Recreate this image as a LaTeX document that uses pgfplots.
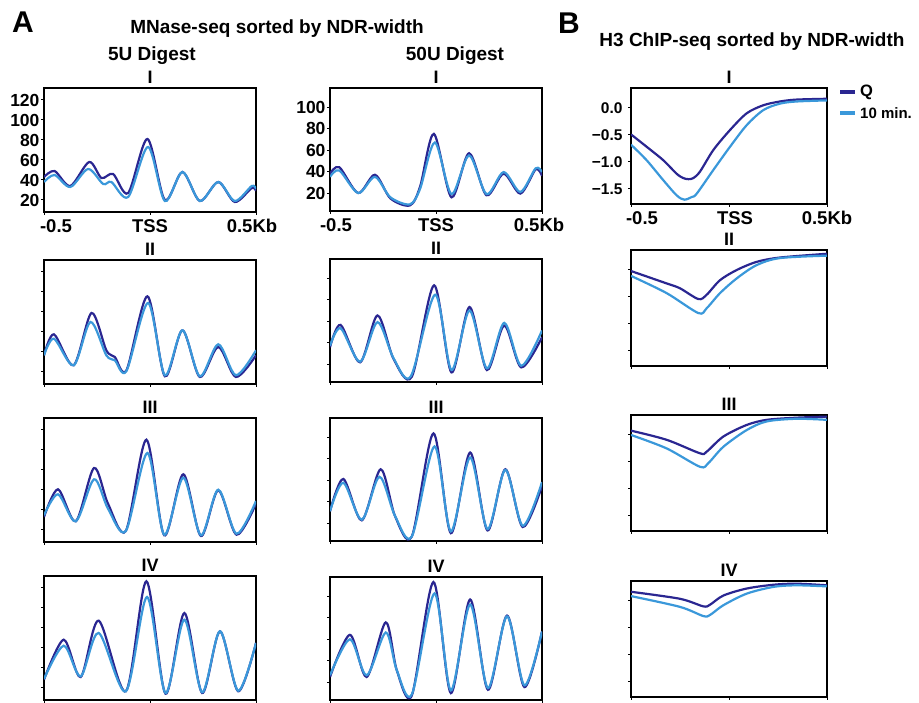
\documentclass[border=0pt]{standalone}
\usepackage{fontspec}
\setmainfont{Liberation Sans}
\usepackage{pgfplots}
\pgfplotsset{compat=1.18}
\definecolor{qcol}{RGB}{42,38,145}
\definecolor{mcol}{RGB}{58,152,218}
\pgfplotsset{
 base/.style={scale only axis, xmin=-0.5, xmax=0.5, xtick={-0.5,0,0.5}, tick pos=left, tick align=outside,
   major tick length=3pt, axis line style={line width=1.5pt}, every tick/.style={black, line width=1pt},
   xticklabels={}, yticklabels={},
   xticklabel style={font=\fontsize{18.5}{18.5}\selectfont\bfseries, yshift=-1pt},
   yticklabel style={font=\fontsize{17.5}{17.5}\selectfont\bfseries, xshift=2pt},
   title style={at={(0.5,1)}, anchor=center, yshift=5pt, font=\fontsize{18}{18}\selectfont\bfseries}},
 mn/.style={base, width=212pt, height=124pt, ymin=8, ymax=132, ytick={20,40,60,80,100,120}},
 mm/.style={base, width=212pt, height=123pt, ymin=3.3, ymax=117.7, ytick={20,40,60,80,100}},
 ch/.style={base, width=196pt, height=116pt, ymin=-1.78, ymax=0.37, ytick={-1.5,-1,-0.5,0}},
 q/.style={qcol, line width=2.2pt, smooth, no markers},
 m/.style={mcol, line width=2.2pt, smooth, no markers},
}
\begin{document}
\begin{tikzpicture}
\useasboundingbox (0,0) rectangle (919pt,703pt);
% headings
\node[font=\fontsize{30}{30}\selectfont\bfseries] at (23pt,681pt) {A};
\node[font=\fontsize{19}{19}\selectfont\bfseries] at (277pt,674pt) {MNase-seq sorted by NDR-width};
\node[font=\fontsize{19}{19}\selectfont\bfseries] at (152pt,647pt) {5U Digest};
\node[font=\fontsize{19}{19}\selectfont\bfseries] at (455pt,647pt) {50U Digest};
\node[font=\fontsize{30}{30}\selectfont\bfseries] at (569pt,680pt) {B};
\node[font=\fontsize{19}{19}\selectfont\bfseries] at (752pt,661pt) {H3 ChIP-seq sorted by NDR-width};

% ---------- left column (5U) ----------
\begin{axis}[mn, at={(44pt,615pt)}, anchor=north west, title={I},
  yticklabels={20,40,60,80,100,120},
  xticklabels={\hspace*{24pt}-0.5, TSS, 0.5Kb\hspace*{8pt}}]
\addplot[q] coordinates {(-0.5,43) (-0.45,49) (-0.376,34) (-0.287,58) (-0.229,42) (-0.174,46) (-0.103,27) (-0.012,81) (0.07,20) (0.153,48) (0.235,19) (0.322,38) (0.40,18) (0.48,32) (0.5,29)};
\addplot[m] coordinates {(-0.5,38) (-0.45,45) (-0.376,33) (-0.292,51) (-0.221,36) (-0.182,38) (-0.103,23) (-0.009,73) (0.07,19) (0.153,48) (0.235,19) (0.322,38) (0.40,19) (0.48,34) (0.5,31)};
\end{axis}
\begin{axis}[mn, at={(44pt,443pt)}, anchor=north west, title={II}]
\addplot[q] coordinates {(-0.5,36.7) (-0.453,57.7) (-0.36,26.7) (-0.276,79) (-0.206,41.7) (-0.166,35) (-0.111,21.7) (-0.012,95.7) (0.07,15.7) (0.153,61.7) (0.235,15) (0.322,45) (0.405,15) (0.5,36.7)};
\addplot[m] coordinates {(-0.5,36.7) (-0.453,53.3) (-0.36,26.7) (-0.281,70) (-0.206,36.7) (-0.166,31.7) (-0.111,21) (-0.009,89) (0.07,16.7) (0.153,61.7) (0.235,15.7) (0.322,47.7) (0.405,16.7) (0.5,41.7)};
\end{axis}
\begin{axis}[mn, at={(44pt,285pt)}, anchor=north west, title={III}]
\addplot[q] coordinates {(-0.5,33) (-0.434,60.7) (-0.35,28.7) (-0.264,82) (-0.198,46.3) (-0.114,19) (-0.017,110.3) (0.067,14.7) (0.157,75.7) (0.24,14) (0.322,59.7) (0.408,15.3) (0.5,46.3)};
\addplot[m] coordinates {(-0.5,34.7) (-0.434,55.7) (-0.35,28.7) (-0.264,70.7) (-0.198,41.3) (-0.114,19) (-0.012,97) (0.067,15.3) (0.157,72.3) (0.24,14.7) (0.322,60.3) (0.408,16.3) (0.5,49)};
\end{axis}
\begin{axis}[mn, at={(44pt,127pt)}, anchor=north west, title={IV}]
\addplot[q] coordinates {(-0.5,28.3) (-0.407,68.3) (-0.327,31) (-0.242,87.3) (-0.114,16.7) (-0.017,126.7) (0.073,14.3) (0.162,95) (0.246,15) (0.33,76.7) (0.416,16.7) (0.5,65)};
\addplot[m] coordinates {(-0.5,29) (-0.407,62.3) (-0.327,31.7) (-0.242,75) (-0.114,16.7) (-0.014,111) (0.073,15) (0.162,88.3) (0.246,15.7) (0.33,76.7) (0.416,17.3) (0.5,65)};
\end{axis}

% ---------- middle column (50U) ----------
\begin{axis}[mm, at={(330pt,615pt)}, anchor=north west, title={I},
  yticklabels={20,40,60,80,100},
  xticklabels={\hspace*{12pt}-0.5, TSS, 0.5Kb\hspace*{6pt}}]
\addplot[q] coordinates {(-0.5,38) (-0.456,44) (-0.367,20) (-0.288,37) (-0.215,15) (-0.123,8.5) (-0.075,26) (-0.01,75) (0.073,16) (0.156,57) (0.238,18) (0.319,38) (0.398,19.5) (0.47,42) (0.5,36)};
\addplot[m] coordinates {(-0.5,35) (-0.456,41) (-0.367,20) (-0.288,35) (-0.215,16) (-0.123,9.5) (-0.075,24) (-0.005,67) (0.073,19) (0.156,55) (0.238,19) (0.319,39.5) (0.398,21) (0.47,43) (0.5,39.5)};
\end{axis}
\begin{axis}[mm, at={(330pt,444pt)}, anchor=north west, title={II}]
\addplot[q] coordinates {(-0.5,35.6) (-0.45,56.4) (-0.358,21.6) (-0.276,65.2) (-0.2,24.7) (-0.114,8.2) (-0.009,93.2) (0.073,12.2) (0.158,73) (0.24,14.4) (0.322,55.8) (0.402,16.9) (0.5,44.9)};
\addplot[m] coordinates {(-0.5,37) (-0.45,53.3) (-0.358,22.2) (-0.276,59) (-0.2,25.3) (-0.119,8.5) (-0.004,84.5) (0.073,14.4) (0.158,69.8) (0.24,16) (0.322,58.3) (0.402,18.4) (0.5,51.2)};
\end{axis}
\begin{axis}[mm, at={(330pt,285pt)}, anchor=north west, title={III}]
\addplot[q] coordinates {(-0.5,31) (-0.437,61) (-0.35,22.5) (-0.261,70) (-0.193,26.3) (-0.114,7.5) (-0.012,103.4) (0.07,10.6) (0.161,85.6) (0.243,13.1) (0.327,70) (0.409,16.3) (0.5,54.4)};
\addplot[m] coordinates {(-0.5,31) (-0.437,57.5) (-0.35,23.1) (-0.267,63) (-0.193,26.5) (-0.114,7.5) (-0.007,91.3) (0.07,12.2) (0.161,81) (0.243,14.4) (0.327,69.4) (0.409,17.5) (0.5,58.1)};
\end{axis}
\begin{axis}[mm, at={(330pt,126pt)}, anchor=north west, title={IV}]
\addplot[q] coordinates {(-0.5,24.7) (-0.406,63.9) (-0.327,24.7) (-0.237,75.5) (-0.185,31) (-0.114,7.5) (-0.012,113) (0.07,9.7) (0.161,96.8) (0.245,12.8) (0.335,81.8) (0.417,15.3) (0.5,67)};
\addplot[m] coordinates {(-0.5,26.3) (-0.406,59.8) (-0.327,26.3) (-0.237,66.1) (-0.185,31) (-0.114,8.4) (-0.007,102.4) (0.07,12.2) (0.161,92.1) (0.245,14.4) (0.335,81.1) (0.417,16.9) (0.5,67)};
\end{axis}

% ---------- right column (H3 ChIP) ----------
\begin{axis}[ch, at={(631pt,615pt)}, anchor=north west, title={I},
  yticklabels={−1.5,−1.0,−0.5,0.0},
  yticklabel style={font=\fontsize{15.5}{15.5}\selectfont\bfseries, xshift=-4pt},
  xticklabels={\hspace*{22pt}-0.5, \hspace*{12pt}TSS, 0.5Kb},
  legend style={at={(1,1)}, anchor=north west, xshift=11pt, yshift=5pt, draw=none, fill=none,
    inner sep=0pt, row sep=5pt, cells={anchor=west}, nodes={inner xsep=3pt}},
  legend image code/.code={\draw[#1, line width=4pt] (0pt,0pt) -- (15pt,0pt);}]
\addplot[q] coordinates {(-0.5,-0.49) (-0.42,-0.72) (-0.335,-0.97) (-0.267,-1.22) (-0.233,-1.30) (-0.207,-1.32) (-0.182,-1.30) (-0.148,-1.18) (-0.08,-0.78) (0.005,-0.41) (0.09,-0.10) (0.175,0.05) (0.26,0.12) (0.345,0.155) (0.5,0.17)};
\addlegendentry{\fontsize{16.5}{16.5}\selectfont\bfseries Q}
\addplot[m] coordinates {(-0.5,-0.68) (-0.42,-0.97) (-0.335,-1.34) (-0.267,-1.62) (-0.228,-1.70) (-0.19,-1.65) (-0.165,-1.59) (-0.08,-1.15) (0.005,-0.72) (0.09,-0.32) (0.175,-0.04) (0.26,0.08) (0.345,0.12) (0.5,0.14)};
\addlegendentry{\fontsize{15}{15}\selectfont\bfseries 10 min.}
\end{axis}
\begin{axis}[ch, at={(631pt,453pt)}, anchor=north west, title={II}]
\addplot[q] coordinates {(-0.5,-0.02) (-0.318,-0.25) (-0.25,-0.34) (-0.156,-0.54) (-0.114,-0.46) (-0.046,-0.19) (0.04,0.0) (0.141,0.15) (0.26,0.23) (0.5,0.30)};
\addplot[m] coordinates {(-0.5,-0.11) (-0.318,-0.43) (-0.156,-0.80) (-0.114,-0.71) (-0.046,-0.43) (0.04,-0.155) (0.141,0.09) (0.26,0.22) (0.5,0.265)};
\end{axis}
\begin{axis}[ch, at={(631pt,288pt)}, anchor=north west, title={III}]
\addplot[q] coordinates {(-0.5,0.08) (-0.318,-0.09) (-0.148,-0.34) (-0.114,-0.31) (-0.029,-0.03) (0.09,0.185) (0.192,0.28) (0.345,0.32) (0.5,0.34)};
\addplot[m] coordinates {(-0.5,0.0) (-0.318,-0.25) (-0.148,-0.59) (-0.105,-0.52) (-0.029,-0.22) (0.09,0.09) (0.192,0.25) (0.345,0.30) (0.5,0.28)};
\end{axis}
\begin{axis}[ch, at={(631pt,122pt)}, anchor=north west, title={IV}]
\addplot[q] coordinates {(-0.5,0.17) (-0.25,0.04) (-0.131,-0.10) (-0.097,-0.07) (-0.029,0.10) (0.09,0.23) (0.226,0.30) (0.345,0.32) (0.5,0.29)};
\addplot[m] coordinates {(-0.5,0.09) (-0.25,-0.11) (-0.131,-0.28) (-0.097,-0.26) (-0.029,-0.08) (0.09,0.135) (0.226,0.26) (0.345,0.29) (0.5,0.27)};
\end{axis}
\end{tikzpicture}
\end{document}
